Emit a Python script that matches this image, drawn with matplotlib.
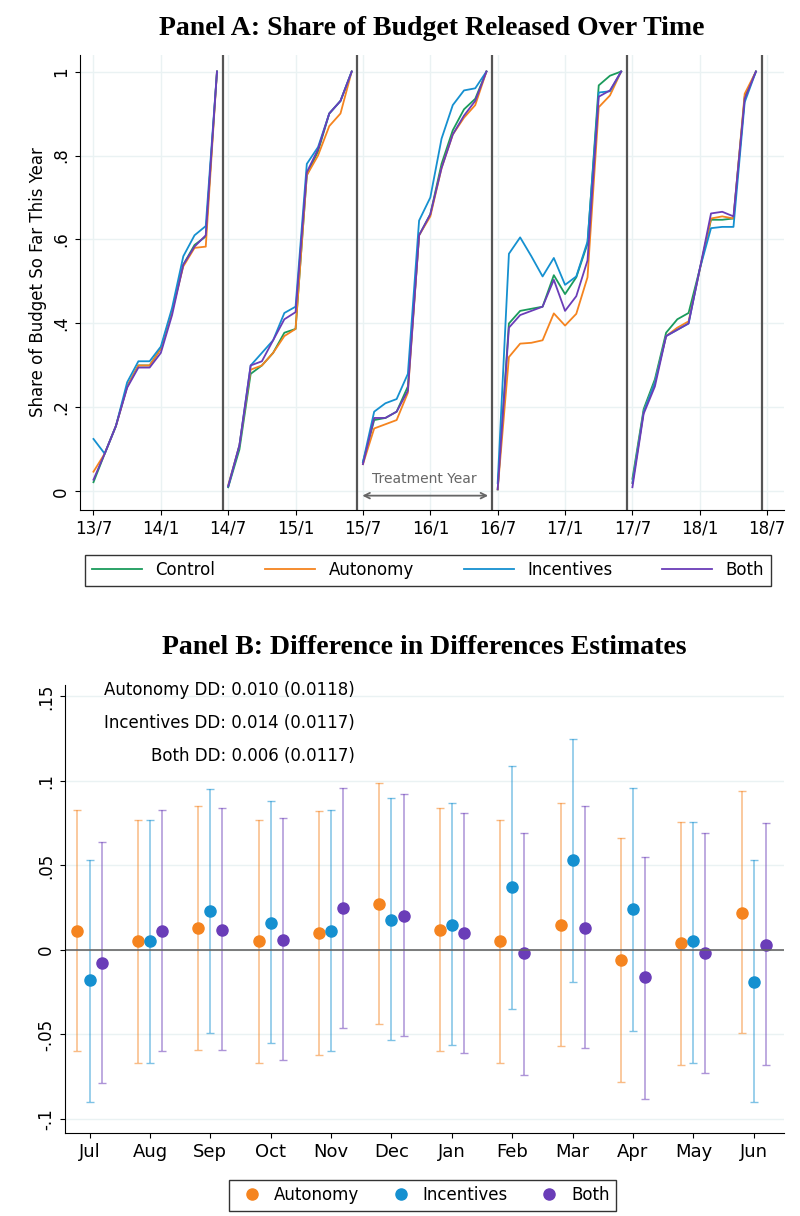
import numpy as np
import matplotlib.pyplot as plt

# Panel A: share of budget released, by month (Jul..Jun) for five fiscal years
control = [
    [.022, .09, .156, .25, .30, .30, .34, .43, .54, .587, .607, 1],
    [.010, .10, .28, .30, .33, .378, .387, .753, .81, .90, .93, 1],
    [.070, .17, .175, .19, .25, .61, .66, .78, .86, .91, .935, 1],
    [.005, .40, .43, .435, .44, .515, .47, .51, .59, .967, .99, 1],
    [.030, .196, .267, .378, .41, .425, .53, .647, .647, .65, .94, 1],
]
autonomy = [
    [.047, .09, .156, .25, .30, .30, .34, .43, .536, .58, .583, 1],
    [.015, .11, .29, .30, .33, .37, .387, .753, .80, .87, .90, 1],
    [.065, .15, .16, .17, .235, .61, .655, .77, .85, .89, .92, 1],
    [.005, .32, .352, .354, .36, .424, .395, .423, .51, .915, .943, 1],
    [.020, .19, .26, .37, .39, .405, .528, .65, .655, .65, .947, 1],
]
incentives = [
    [.125, .09, .156, .26, .31, .31, .345, .437, .56, .61, .632, 1],
    [.012, .11, .30, .33, .36, .425, .44, .78, .82, .90, .93, 1],
    [.070, .19, .21, .22, .28, .645, .70, .84, .92, .955, .96, 1],
    [.020, .566, .605, .56, .512, .556, .492, .512, .595, .95, .953, 1],
    [.020, .19, .26, .37, .385, .40, .53, .627, .63, .63, .927, 1],
]
both = [
    [.028, .09, .156, .247, .295, .295, .33, .42, .54, .583, .61, 1],
    [.012, .11, .30, .31, .36, .41, .427, .76, .815, .90, .93, 1],
    [.065, .175, .175, .19, .24, .61, .66, .77, .85, .895, .93, 1],
    [.005, .39, .42, .43, .44, .504, .43, .465, .55, .94, .955, 1],
    [.010, .185, .25, .37, .385, .40, .53, .662, .666, .655, .935, 1],
]
a_ticks = ['13/7', '14/1', '14/7', '15/1', '15/7', '16/1', '16/7', '17/1', '17/7', '18/1', '18/7']

# Panel B: DD estimates by month (point, low, high)
months = ['Jul', 'Aug', 'Sep', 'Oct', 'Nov', 'Dec', 'Jan', 'Feb', 'Mar', 'Apr', 'May', 'Jun']
aut_est = [.011, .005, .013, .005, .010, .027, .012, .005, .015, -.006, .004, .022]
aut_lo = [-.060, -.067, -.059, -.067, -.062, -.044, -.060, -.067, -.057, -.078, -.068, -.049]
aut_hi = [.083, .077, .085, .077, .082, .099, .084, .077, .087, .066, .076, .094]
inc_est = [-.018, .005, .023, .016, .011, .018, .015, .037, .053, .024, .005, -.019]
inc_lo = [-.090, -.067, -.049, -.055, -.060, -.053, -.056, -.035, -.019, -.048, -.067, -.090]
inc_hi = [.053, .077, .095, .088, .083, .090, .087, .109, .125, .096, .076, .053]
both_est = [-.008, .011, .012, .006, .025, .020, .010, -.002, .013, -.016, -.002, .003]
both_lo = [-.079, -.060, -.059, -.065, -.046, -.051, -.061, -.074, -.058, -.088, -.073, -.068]
both_hi = [.064, .083, .084, .078, .096, .092, .081, .069, .085, .055, .069, .075]
dd_text = ['Autonomy DD: 0.010 (0.0118)', 'Incentives DD: 0.014 (0.0117)', 'Both DD: 0.006 (0.0117)']

c_green = '#1a9b5c'
c_orange = '#f5841f'
c_blue = '#1590d0'
c_purple = '#6a3db8'
title_font = dict(family='Liberation Serif', fontweight='bold', fontsize=20)

fig = plt.figure(figsize=(8, 12.16), dpi=100)

# ---------- Panel A ----------
ax = fig.add_axes([0.1, 0.581, 0.88, 0.374])
for yr in range(5):
    x = np.arange(12) + 12 * yr
    for series, col, lab in [(control, c_green, 'Control'), (autonomy, c_orange, 'Autonomy'),
                             (incentives, c_blue, 'Incentives'), (both, c_purple, 'Both')]:
        ax.plot(x, series[yr], color=col, lw=1.3, label=lab if yr == 0 else None)
    ax.axvline(12 * yr + 11.5, color='#555555', lw=1.6)
ax.set_xlim(-1.2, 61.5)
ax.set_ylim(-0.043, 1.04)
ax.set_xticks(np.arange(0, 61, 6))
ax.set_xticklabels(a_ticks, fontsize=12)
ax.set_yticks([0, .2, .4, .6, .8, 1])
ax.set_yticklabels(['0', '.2', '.4', '.6', '.8', '1'], rotation=90, va='center', fontsize=12)
ax.set_ylabel('Share of Budget So Far This Year', fontsize=12)
ax.grid(color='#eaf2f3', lw=1)
ax.set_axisbelow(True)
for s in ['top', 'right']:
    ax.spines[s].set_visible(False)
ax.annotate('', xy=(23.7, -0.01), xytext=(35.4, -0.01),
            arrowprops=dict(arrowstyle='<->', color='#666666', lw=1.3))
ax.text(29.5, 0.012, 'Treatment Year', ha='center', va='bottom', color='#666666', fontsize=10)
ax.set_title('Panel A: Share of Budget Released Over Time', pad=14, **title_font)
fig.legend(*ax.get_legend_handles_labels(), loc='center', bbox_to_anchor=(0.535, 0.531),
           ncol=4, fontsize=12, frameon=True, fancybox=False, edgecolor='black',
           handlelength=3, columnspacing=3)

# ---------- Panel B ----------
bx = fig.add_axes([0.081, 0.068, 0.899, 0.369])
xpos = np.arange(1, 13)
for off, est, lo, hi, col, lab in [(-0.2, aut_est, aut_lo, aut_hi, c_orange, 'Autonomy'),
                                   (0.0, inc_est, inc_lo, inc_hi, c_blue, 'Incentives'),
                                   (0.2, both_est, both_lo, both_hi, c_purple, 'Both')]:
    est = np.array(est)
    yerr = [est - np.array(lo), np.array(hi) - est]
    bx.errorbar(xpos + off, est, yerr=yerr, fmt='none', ecolor=col, alpha=0.55, lw=1.1, capsize=3)
    bx.plot(xpos + off, est, 'o', color=col, ms=8, label=lab)
bx.axhline(0, color='#666666', lw=1.2)
bx.set_xlim(0.59, 12.5)
bx.set_ylim(-0.1085, 0.157)
bx.set_xticks(xpos)
bx.set_xticklabels(months, fontsize=13)
bx.set_yticks([-.1, -.05, 0, .05, .1, .15])
bx.set_yticklabels(['-.1', '-.05', '0', '.05', '.1', '.15'], rotation=90, va='center', fontsize=12)
bx.grid(axis='y', color='#eaf2f3', lw=1)
bx.set_axisbelow(True)
for s in ['top', 'right']:
    bx.spines[s].set_visible(False)
for i, t in enumerate(dd_text):
    bx.text(0.403, 0.989 - i * 0.074, t, transform=bx.transAxes, ha='right', va='center', fontsize=12)
bx.set_title('Panel B: Difference in Differences Estimates', pad=22, **title_font)
fig.legend(*bx.get_legend_handles_labels(), loc='center', bbox_to_anchor=(0.528, 0.017),
           ncol=3, fontsize=12, frameon=True, fancybox=False, edgecolor='black',
           handletextpad=0.3, columnspacing=1.5)

fig.savefig('out.png', dpi=100)
